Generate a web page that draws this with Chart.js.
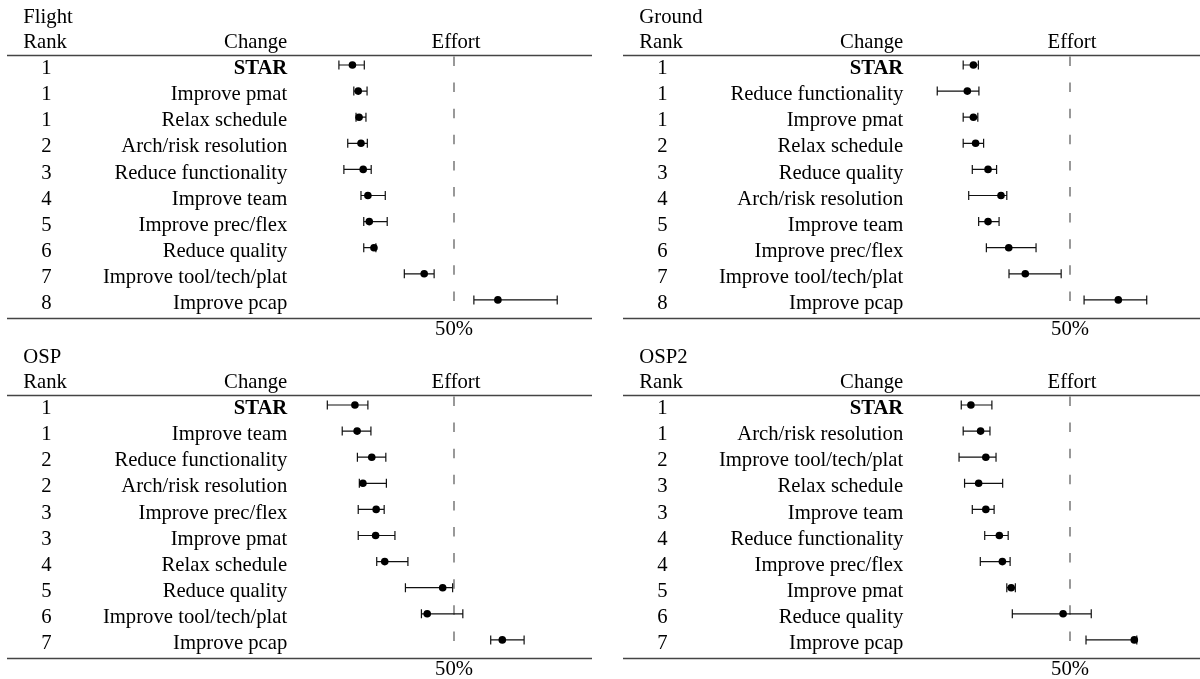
<!DOCTYPE html>
<html>
<head>
<meta charset="utf-8">
<script src="https://cdn.jsdelivr.net/npm/chart.js@4.4.1/dist/chart.umd.min.js"></script>
<style>
  html, body { margin: 0; padding: 0; background: #fff; overflow: hidden; width: 1200px; height: 679px; }
  .panel { position: absolute; width: 600px; height: 340px; }
  .panel canvas { display: block; }
</style>
</head>
<body>
<div class="panel" style="left:0;top:0"><canvas id="flight" width="600" height="340"></canvas></div>
<div class="panel" style="left:616px;top:0"><canvas id="ground" width="600" height="340"></canvas></div>
<div class="panel" style="left:0;top:340px"><canvas id="osp" width="600" height="340"></canvas></div>
<div class="panel" style="left:616px;top:340px"><canvas id="osp2" width="600" height="340"></canvas></div>
<script>
// ---- Flight ----
const flightRanks   = [1, 1, 1, 2, 3, 4, 5, 6, 7, 8];
const flightChanges = ['STAR', 'Improve pmat', 'Relax schedule', 'Arch/risk resolution', 'Reduce functionality',
                       'Improve team', 'Improve prec/flex', 'Reduce quality', 'Improve tool/tech/plat', 'Improve pcap'];
const flightEffort  = [13.2, 15.3, 15.6, 16.3, 17.1, 18.8, 19.3, 21.0, 39.2, 65.9];
const flightLow     = [8.3, 13.7, 14.5, 11.5, 10.1, 16.3, 17.3, 17.3, 32.0, 57.2];
const flightHigh    = [17.5, 18.5, 18.1, 18.6, 20.0, 25.1, 25.8, 21.7, 42.8, 87.4];

// ---- Ground ----
const groundRanks   = [1, 1, 1, 2, 3, 4, 5, 6, 7, 8];
const groundChanges = ['STAR', 'Reduce functionality', 'Improve pmat', 'Relax schedule', 'Reduce quality',
                       'Arch/risk resolution', 'Improve team', 'Improve prec/flex', 'Improve tool/tech/plat', 'Improve pcap'];
const groundEffort  = [15.0, 12.8, 15.0, 15.8, 20.3, 25.0, 20.3, 27.8, 33.8, 67.5];
const groundLow     = [11.3, 1.9, 11.3, 11.3, 14.6, 13.3, 16.9, 19.7, 27.9, 55.1];
const groundHigh    = [16.8, 17.0, 16.6, 18.7, 23.4, 27.1, 24.3, 37.7, 46.8, 77.8];

// ---- OSP ----
const ospRanks   = [1, 1, 2, 2, 3, 3, 4, 5, 6, 7];
const ospChanges = ['STAR', 'Improve team', 'Reduce functionality', 'Arch/risk resolution', 'Improve prec/flex',
                    'Improve pmat', 'Relax schedule', 'Reduce quality', 'Improve tool/tech/plat', 'Improve pcap'];
const ospEffort  = [14.1, 14.9, 20.2, 17.0, 21.8, 21.6, 24.9, 45.9, 40.3, 67.5];
const ospLow     = [4.1, 9.5, 15.0, 15.7, 15.3, 15.3, 22.0, 32.4, 38.2, 63.3];
const ospHigh    = [18.8, 19.9, 25.3, 25.5, 24.7, 28.6, 33.3, 49.5, 53.2, 75.4];

// ---- OSP2 ----
const osp2Ranks   = [1, 1, 2, 3, 3, 4, 4, 5, 6, 7];
const osp2Changes = ['STAR', 'Arch/risk resolution', 'Improve tool/tech/plat', 'Relax schedule', 'Improve team',
                     'Reduce functionality', 'Improve prec/flex', 'Improve pmat', 'Reduce quality', 'Improve pcap'];
const osp2Effort  = [14.1, 17.6, 19.5, 16.9, 19.5, 24.4, 25.5, 28.7, 47.5, 73.3];
const osp2Low     = [10.6, 11.3, 9.8, 11.8, 14.6, 19.1, 17.5, 27.1, 29.1, 55.8];
const osp2High    = [21.7, 21.0, 23.2, 25.6, 22.5, 27.6, 28.3, 30.2, 57.7, 74.2];

// x-axis tick shown under the reference line
const effortTicks = [50];
const referenceEffort = 50;

const FONT = "'Liberation Serif', 'Times New Roman', serif";
const FONT_SIZE = 20.7;

// Table frame: title, column headers, rules, rank column, dashed reference, error bars
const effortTable = {
  id: 'effortTable',
  beforeDatasetsDraw(chart, args, opts) {
    const { ctx, scales: { x, y } } = chart;
    ctx.save();
    ctx.fillStyle = '#000';
    ctx.font = FONT_SIZE + 'px ' + FONT;
    ctx.textBaseline = 'alphabetic';
    ctx.textAlign = 'left';
    ctx.fillText(opts.title, 23.3, 23);
    ctx.fillText('Rank', 23.3, 48);
    ctx.textAlign = 'right';
    ctx.fillText('Change', 287.3, 48);
    ctx.textAlign = 'center';
    const xRef = x.getPixelForValue(referenceEffort);
    ctx.fillText('Effort', xRef + 2, 48);

    // rank column
    ctx.textBaseline = 'middle';
    opts.ranks.forEach((r, i) => {
      ctx.fillText(String(r), 46.5, y.getPixelForValue(i) + 3.7);
    });

    // horizontal rules
    ctx.strokeStyle = '#444';
    ctx.lineWidth = 1.4;
    ctx.beginPath();
    ctx.moveTo(7, 55.5); ctx.lineTo(592, 55.5);
    ctx.moveTo(7, 318.5); ctx.lineTo(592, 318.5);
    ctx.stroke();

    // dashed reference at 50% effort, one dash per row
    ctx.strokeStyle = '#555';
    ctx.lineWidth = 1.2;
    ctx.beginPath();
    opts.ranks.forEach((r, i) => {
      const yp = y.getPixelForValue(i);
      ctx.moveTo(xRef, yp - 8.5);
      ctx.lineTo(xRef, yp + 1);
    });
    ctx.stroke();

    // error bars
    ctx.strokeStyle = '#111';
    ctx.lineWidth = 1.2;
    ctx.beginPath();
    opts.low.forEach((lo, i) => {
      const yp = y.getPixelForValue(i);
      const x0 = x.getPixelForValue(lo);
      const x1 = x.getPixelForValue(opts.high[i]);
      ctx.moveTo(x0, yp); ctx.lineTo(x1, yp);
      ctx.moveTo(x0, yp - 4.5); ctx.lineTo(x0, yp + 4.5);
      ctx.moveTo(x1, yp - 4.5); ctx.lineTo(x1, yp + 4.5);
    });
    ctx.stroke();
    ctx.restore();
  }
};

function noEdgePadding(s) {
  s.paddingTop = 0; s.paddingBottom = 0; s.paddingLeft = 0; s.paddingRight = 0;
}

function makePanel(id, title, ranks, changes, effort, low, high) {
  return new Chart(document.getElementById(id), {
    type: 'scatter',
    data: {
      datasets: [{
        data: effort.map((v, i) => ({ x: v, y: changes[i] })),
        backgroundColor: '#000',
        borderColor: '#000',
        borderWidth: 0,
        pointRadius: 3.8,
        pointHoverRadius: 3.8
      }]
    },
    options: {
      responsive: false,
      animation: false,
      devicePixelRatio: 1,
      layout: { padding: { top: 51.95, right: 8, bottom: 0, left: 0 } },
      plugins: {
        legend: { display: false },
        tooltip: { enabled: false },
        effortTable: { title, ranks, low, high }
      },
      scales: {
        x: {
          type: 'linear',
          min: 0,
          max: 100,
          grid: { display: false, drawTicks: false },
          border: { display: false },
          afterBuildTicks: s => { s.ticks = effortTicks.map(v => ({ value: v })); },
          afterFit: s => { s.height = 27.05; noEdgePadding(s); },
          ticks: {
            autoSkip: false,
            maxRotation: 0,
            padding: 4,
            color: '#000',
            font: { family: FONT, size: FONT_SIZE },
            callback: v => v + '%'
          }
        },
        y: {
          type: 'category',
          labels: changes,
          offset: true,
          grid: { display: false, drawTicks: false },
          border: { display: false },
          afterFit: s => { s.width = 316; noEdgePadding(s); },
          ticks: {
            autoSkip: false,
            padding: 28.7,
            labelOffset: 3.7,
            color: '#000',
            font: c => ({ family: FONT, size: FONT_SIZE, weight: c.index === 0 ? 'bold' : 'normal' })
          }
        }
      }
    },
    plugins: [effortTable]
  });
}

makePanel('flight', 'Flight', flightRanks, flightChanges, flightEffort, flightLow, flightHigh);
makePanel('ground', 'Ground', groundRanks, groundChanges, groundEffort, groundLow, groundHigh);
makePanel('osp', 'OSP', ospRanks, ospChanges, ospEffort, ospLow, ospHigh);
makePanel('osp2', 'OSP2', osp2Ranks, osp2Changes, osp2Effort, osp2Low, osp2High);
</script>
</body>
</html>
